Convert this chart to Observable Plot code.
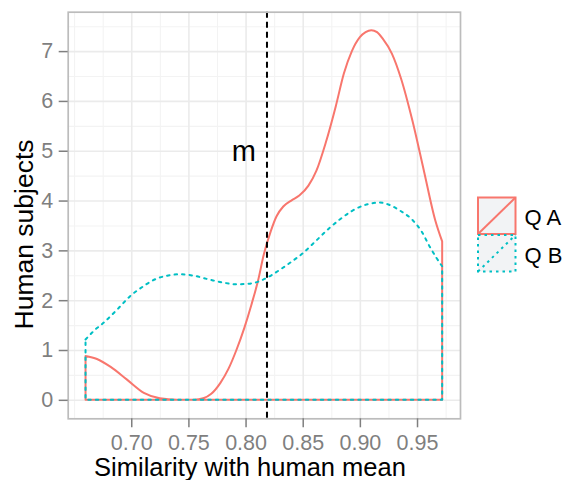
<!DOCTYPE html>
<html>
<head>
<meta charset="utf-8">
<script src="https://cdn.jsdelivr.net/npm/d3@7"></script>
<script src="https://cdn.jsdelivr.net/npm/@observablehq/plot@0.6"></script>
<style>
  html, body { margin: 0; padding: 0; background: white; }
  #chart { position: relative; width: 566px; height: 480px; }
  #chart svg [aria-label="x-axis tick label"], #chart svg [aria-label="y-axis tick label"] { font-size: 21.5px; }
</style>
</head>
<body>
<div id="chart"></div>
<script>
// ---- data ----
const seriesNames = ["Q A", "Q B"];
const seriesColors = ["#F8766D", "#00BFC4"];

const qaX = [0.660, 0.670, 0.682, 0.696, 0.711, 0.725, 0.740, 0.755, 0.763, 0.770, 0.778, 0.785, 0.792, 0.799, 0.805, 0.811, 0.816, 0.822, 0.827, 0.833, 0.840, 0.847, 0.855, 0.862, 0.870, 0.879, 0.886, 0.893, 0.900, 0.905, 0.910, 0.915, 0.920, 0.928, 0.936, 0.946, 0.956, 0.966, 0.972];
const qaY = [0.88, 0.82, 0.66, 0.41, 0.14, 0.03, 0.00, 0.00, 0.03, 0.12, 0.34, 0.62, 1.00, 1.45, 1.90, 2.40, 2.92, 3.38, 3.68, 3.88, 4.00, 4.10, 4.30, 4.60, 5.15, 5.90, 6.55, 7.00, 7.28, 7.38, 7.42, 7.38, 7.25, 6.95, 6.45, 5.60, 4.60, 3.60, 3.18];

const qbX = [0.660, 0.668, 0.676, 0.688, 0.699, 0.710, 0.720, 0.731, 0.743, 0.755, 0.769, 0.781, 0.792, 0.803, 0.812, 0.821, 0.830, 0.840, 0.850, 0.862, 0.873, 0.883, 0.893, 0.903, 0.912, 0.917, 0.925, 0.935, 0.946, 0.954, 0.961, 0.967, 0.972];
const qbY = [1.21, 1.40, 1.55, 1.82, 2.08, 2.27, 2.41, 2.49, 2.52, 2.49, 2.41, 2.35, 2.32, 2.33, 2.38, 2.48, 2.61, 2.77, 2.94, 3.20, 3.44, 3.63, 3.79, 3.90, 3.95, 3.96, 3.92, 3.80, 3.61, 3.38, 3.08, 2.85, 2.68];

const meanSimilarity = 0.8183;
const meanLabel = "m";
const meanLabelPos = { x: 0.798, y: 5 };

const xTicks = [0.70, 0.75, 0.80, 0.85, 0.90, 0.95];
const yTicks = [0, 1, 2, 3, 4, 5, 6, 7];

const xTitle = "Similarity with human mean";
const yTitle = "Human subjects";

// ---- derived tables / scales ----
const qa = qaX.map((x, i) => ({ x, y: qaY[i] }));
const qb = qbX.map((x, i) => ({ x, y: qbY[i] }));

const allX = qaX.concat(qbX), allY = qaY.concat(qbY).concat([0]);
const xmin = d3.min(allX), xmax = d3.max(allX);
const ymin = d3.min(allY), ymax = d3.max(allY);
const xpad = 0.05 * (xmax - xmin), ypad = 0.05 * (ymax - ymin);
const xDomain = [xmin - xpad, xmax + xpad];
const yDomain = [ymin - ypad, ymax + ypad];

function minorBreaks(ticks, domain) {
  const step = ticks[1] - ticks[0];
  const ext = [ticks[0] - step, ...ticks, ticks[ticks.length - 1] + step];
  const out = [];
  for (let i = 0; i < ext.length; i++) {
    out.push(ext[i]);
    if (i < ext.length - 1) out.push((ext[i] + ext[i + 1]) / 2);
  }
  return out.filter(v => v >= domain[0] && v <= domain[1] && !ticks.some(t => Math.abs(t - v) < 1e-9));
}
const xMinor = minorBreaks(xTicks, xDomain);
const yMinor = minorBreaks(yTicks, yDomain);

const font = "'Liberation Sans', Arial, Helvetica, sans-serif";

const plot = Plot.plot({
  width: 566,
  height: 480,
  marginLeft: 67.7,
  marginRight: 106,
  marginTop: 11.7,
  marginBottom: 61.7,
  style: { fontFamily: font, color: "#7f7f7f", background: "white", overflow: "visible" },
  x: { domain: xDomain, label: null },
  y: { domain: yDomain, label: null },
  marks: [
    Plot.ruleX(xMinor, { stroke: "#f3f3f3", strokeWidth: 1.1 }),
    Plot.ruleY(yMinor, { stroke: "#f3f3f3", strokeWidth: 1.1 }),
    Plot.ruleX(xTicks, { stroke: "#ebebeb", strokeWidth: 1.6 }),
    Plot.ruleY(yTicks, { stroke: "#ebebeb", strokeWidth: 1.6 }),
    Plot.areaY(qa, { x: "x", y: "y", fill: "none", stroke: seriesColors[0], strokeWidth: 2, curve: "monotone-x" }),
    Plot.areaY(qb, { x: "x", y: "y", fill: "none", stroke: seriesColors[1], strokeWidth: 2, strokeDasharray: "2.5,5", curve: "monotone-x" }),
    Plot.ruleX([meanSimilarity], { stroke: "black", strokeWidth: 2, strokeDasharray: "6,4" }),
    Plot.text([meanLabelPos], { x: "x", y: "y", text: () => meanLabel, fill: "black", fontSize: 29, textAnchor: "middle" }),
    Plot.frame({ stroke: "#bcbcbc", strokeWidth: 1.7 }),
    Plot.axisX({ ticks: xTicks, tickFormat: d3.format(".2f"), tickSize: 9, tickPadding: 7, fontSize: 21.5, strokeWidth: 1.5, label: null }),
    Plot.axisY({ ticks: yTicks, tickFormat: d3.format("d"), tickSize: 9, tickPadding: 6, fontSize: 21.5, strokeWidth: 1.5, label: null })
  ]
});

document.getElementById("chart").appendChild(plot);

// ---- axis titles and legend ----
const svg = d3.select(plot);
svg.append("text")
  .attr("x", 250).attr("y", 476)
  .attr("text-anchor", "middle")
  .attr("fill", "black")
  .style("font-family", font).style("font-size", "25.5px")
  .text(xTitle);
svg.append("text")
  .attr("transform", "translate(33,234.5) rotate(-90)")
  .attr("text-anchor", "middle")
  .attr("fill", "black")
  .style("font-family", font).style("font-size", "26.5px")
  .text(yTitle);

const leg = svg.append("g");
const keyX = 478, keyW = 37.5, keyH = 36.5;
const keyY = [197.5, 235];
const dashes = [null, "2.5,4"];
const labelBase = [225, 262.7];
seriesNames.forEach((name, i) => {
  const g = leg.append("g");
  g.append("rect").attr("x", keyX).attr("y", keyY[i]).attr("width", keyW).attr("height", keyH)
    .attr("fill", "#f2f3f5").attr("stroke", seriesColors[i]).attr("stroke-width", 2)
    .attr("stroke-dasharray", dashes[i]);
  g.append("line").attr("x1", keyX).attr("y1", keyY[i] + keyH).attr("x2", keyX + keyW).attr("y2", keyY[i])
    .attr("stroke", seriesColors[i]).attr("stroke-width", 2).attr("stroke-dasharray", dashes[i]);
  g.append("text").attr("x", 524.5).attr("y", labelBase[i]).attr("fill", "black")
    .attr("text-anchor", "start")
    .style("font-family", font).style("font-size", "22px").text(name);
});
</script>
</body>
</html>
